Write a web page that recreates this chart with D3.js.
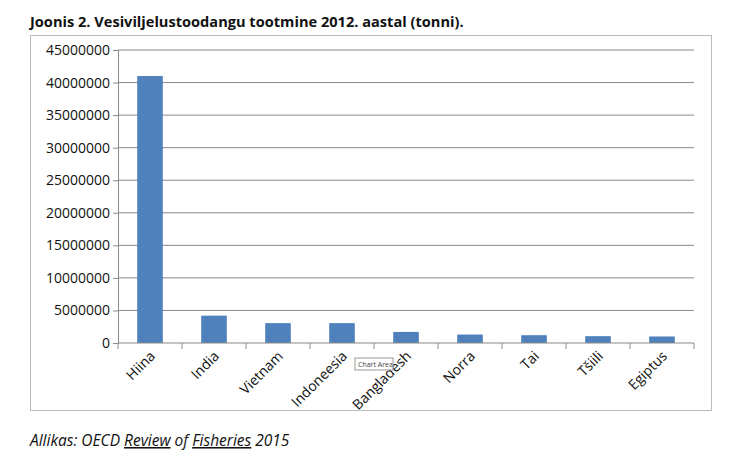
<!DOCTYPE html>
<html><head><meta charset="utf-8">
<script src="https://cdn.jsdelivr.net/npm/d3@7"></script>
<style>body{margin:0;background:#fff;font-family:"Open Sans",sans-serif}</style>
</head><body><svg id="c" width="736" height="466"></svg>
<script>
const categories=["Hiina","India","Vietnam","Indoneesia","Bangladesh","Norra","Tai","Tšiili","Egiptus"];
const values=[41000000,4200000,3050000,3050000,1700000,1300000,1200000,1050000,1000000];
const tickValues=[0,5000000,10000000,15000000,20000000,25000000,30000000,35000000,40000000,45000000];
const L=118,R=694;
const svg=d3.select("#c");
svg.append("text").attr("x",30).attr("y",27).attr("font-size",14.6).attr("font-weight","bold").attr("fill","#111").text("Joonis 2. Vesiviljelustoodangu tootmine 2012. aastal (tonni).");
svg.append("rect").attr("x",30.5).attr("y",35.5).attr("width",681).attr("height",375).attr("fill","#fff").attr("stroke","#bbb");
const x=d3.scaleBand().domain(categories).range([L,R]).paddingInner(0.6).paddingOuter(0.3);
const y=d3.scaleLinear().domain([0,45000000]).range([343,50]);
const g=svg.append("g");
g.selectAll("line.grid").data(tickValues.slice(1)).join("line").attr("x1",L).attr("x2",R).attr("y1",d=>y(d)).attr("y2",d=>y(d)).attr("stroke","#888");
g.selectAll("rect.bar").data(values).join("rect").attr("x",(d,i)=>x(categories[i])).attr("width",x.bandwidth()).attr("y",d=>y(d)).attr("height",d=>343-y(d)).attr("fill","#4f81bd");
const ya=svg.append("g").attr("transform",`translate(${L},0)`).call(d3.axisLeft(y).tickValues(tickValues).tickSize(5).tickFormat(d3.format("d")));
ya.select(".domain").attr("stroke","#888");ya.selectAll("line").attr("stroke","#888");
ya.selectAll("text").attr("font-size",14).attr("font-family","Open Sans").attr("fill","#111");
const step=(R-L)/9;
const xa=svg.append("g").attr("transform","translate(0,343)");
xa.append("line").attr("x1",L).attr("x2",R).attr("stroke","#888");
xa.selectAll("line.t").data(d3.range(10)).join("line").attr("x1",d=>L+d*step).attr("x2",d=>L+d*step).attr("y2",6).attr("stroke","#888");
xa.selectAll("text").data(categories).join("text").attr("font-size",14).attr("fill","#111").attr("text-anchor","end")
 .attr("transform",d=>`translate(${x(d)+x.bandwidth()/2+6},${14}) rotate(-45)`).text(d=>d);
const tip=svg.append("g").attr("transform","translate(355,358)");
tip.append("rect").attr("width",38).attr("height",12).attr("fill","#fff").attr("stroke","#999");
tip.append("text").attr("x",3).attr("y",9).attr("font-size",7).attr("fill","#444").text("Chart Area");
const s=svg.append("text").attr("x",30).attr("y",446).attr("font-size",15.5).attr("font-style","italic").attr("fill","#111");
s.append("tspan").text("Allikas: OECD ");
s.append("tspan").attr("text-decoration","underline").text("Review");
s.append("tspan").text(" of ");
s.append("tspan").attr("text-decoration","underline").text("Fisheries");
s.append("tspan").text(" 2015");
</script></body></html>
